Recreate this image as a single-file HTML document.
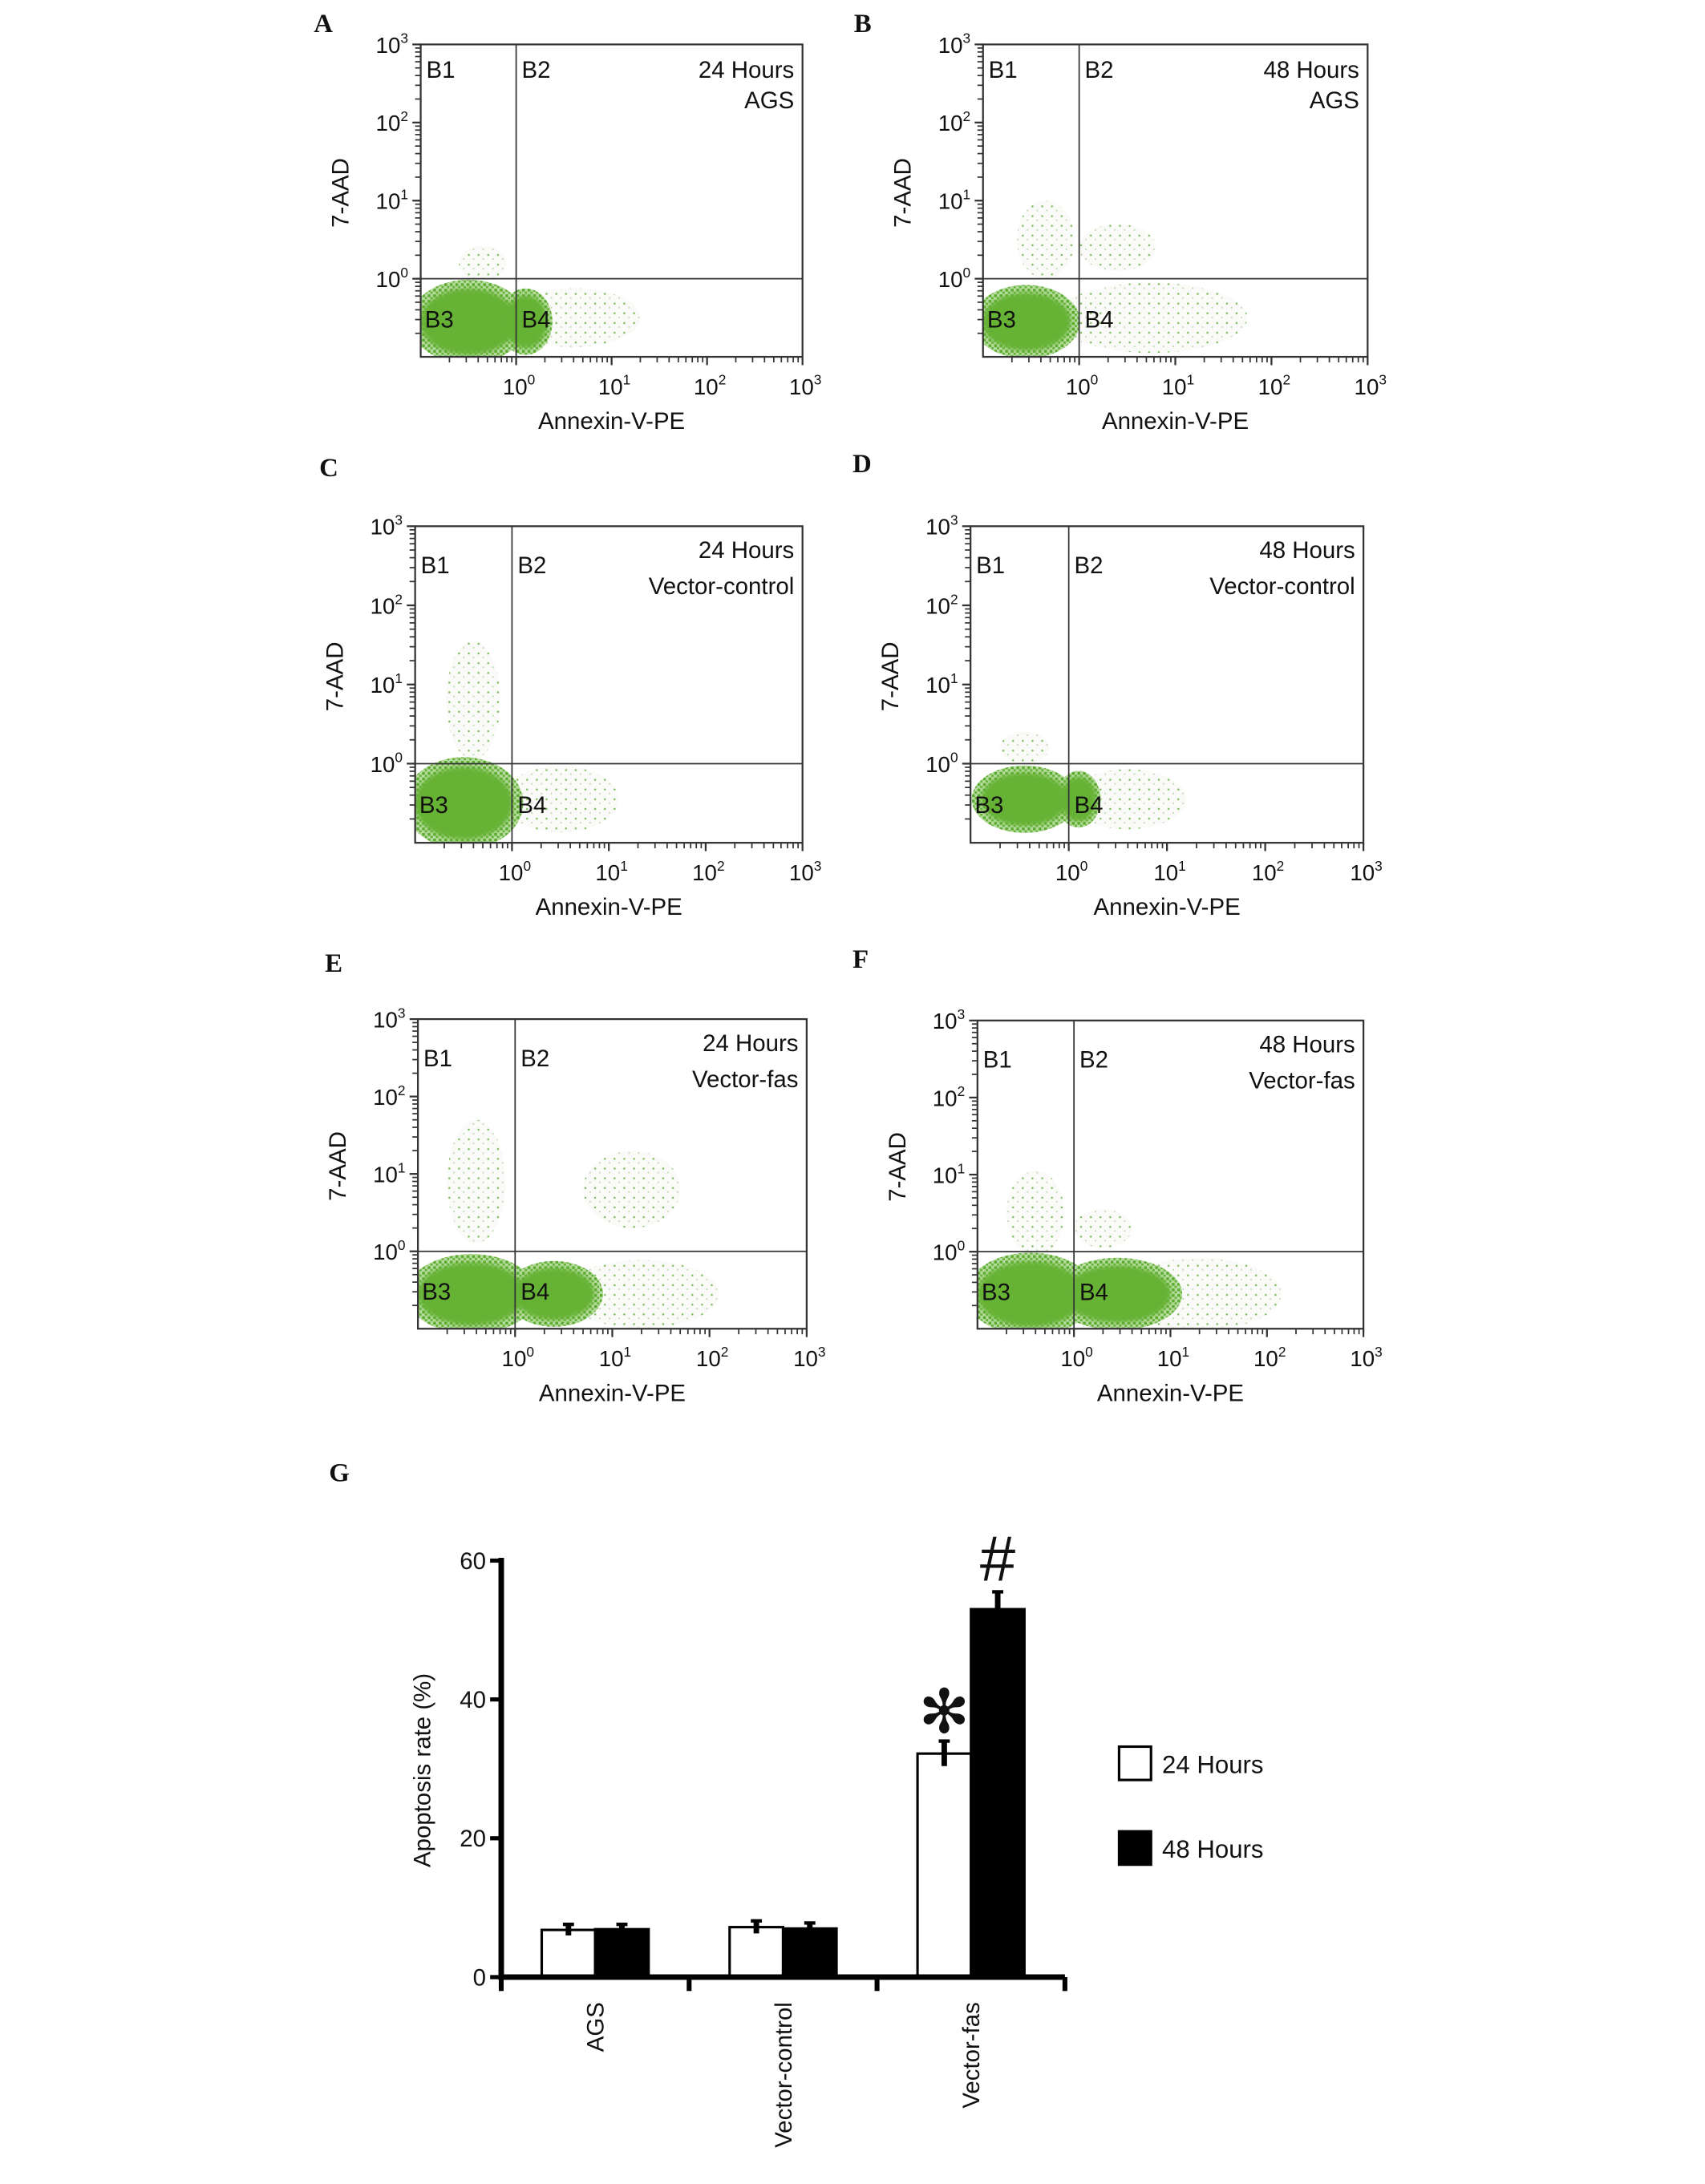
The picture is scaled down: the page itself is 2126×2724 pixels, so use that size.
<!DOCTYPE html>
<html><head><meta charset="utf-8">
<style>
html,body{margin:0;padding:0;background:#fff;}
svg{display:block;}
text{font-family:"Liberation Sans",Arial,sans-serif;fill:#111;}
.serif{font-family:"Liberation Serif",serif;font-weight:bold;}
</style></head>
<body>
<svg id="fig" width="2126" height="2724" viewBox="0 0 1228 1573" preserveAspectRatio="none" xmlns="http://www.w3.org/2000/svg">
<defs>
<filter id="blur1" x="-30%" y="-30%" width="160%" height="160%"><feGaussianBlur stdDeviation="1.5"/></filter>
<pattern id="stip" width="4" height="4" patternUnits="userSpaceOnUse">
<rect width="4" height="4" fill="#b7dc9f"/>
<rect x="0" y="0" width="2" height="2" fill="#5aab2e"/>
<rect x="2" y="2" width="1.6" height="1.6" fill="#62b035"/>
</pattern>
<pattern id="stipL" width="7" height="7" patternUnits="userSpaceOnUse">
<rect width="7" height="7" fill="#fafbf9"/>
<rect x="1" y="1" width="1.3" height="1.3" fill="#7dbb5a"/>
<rect x="4.5" y="4" width="1.1" height="1.1" fill="#c3d9b5"/>
</pattern>
</defs>
<g id="panels"></g>
<g id="bars"></g>
</svg>
<script>
// ---- flow panels ----
const panelLetters = ["A","B","C","D","E","F"];
const panelTitles1 = ["24 Hours","48 Hours","24 Hours","48 Hours","24 Hours","48 Hours"];
const panelTitles2 = ["AGS","AGS","Vector-control","Vector-control","Vector-fas","Vector-fas"];
// dense clusters: [xCenterLog, yCenterLog, xHalfLog, yHalfLog]
const denseClusters = [
 [[-0.5,-0.55,0.55,0.48],[0.1,-0.55,0.25,0.38]],
 [[-0.55,-0.55,0.5,0.42]],
 [[-0.5,-0.5,0.55,0.52]],
 [[-0.45,-0.45,0.48,0.38],[0.1,-0.45,0.2,0.32]],
 [[-0.45,-0.55,0.6,0.46],[0.4,-0.55,0.45,0.38]],
 [[-0.45,-0.55,0.6,0.48],[0.45,-0.55,0.6,0.42]]
];
// sparse tails: [xCenterLog, yCenterLog, xHalfLog, yHalfLog]
const sparseClusters = [
 [[0.6,-0.5,0.7,0.38],[-0.35,0.2,0.25,0.22]],
 [[0.75,-0.5,1.0,0.45],[-0.35,0.5,0.3,0.5],[0.4,0.4,0.4,0.3]],
 [[0.5,-0.45,0.6,0.42],[-0.4,0.8,0.28,0.75]],
 [[0.6,-0.45,0.6,0.38],[-0.45,0.2,0.25,0.2]],
 [[1.3,-0.55,0.8,0.44],[-0.4,0.9,0.3,0.8],[1.2,0.8,0.5,0.5]],
 [[1.3,-0.55,0.85,0.47],[-0.4,0.5,0.3,0.55],[0.3,0.3,0.3,0.25]]
];
const boxes = [
 [303,578,32,257],[708,985,32,257],
 [299,578,379,607],[699,982,379,607],
 [301,581,734,957],[704,982,735,957]
];
const letterPos = [[226,23],[615,23],[230,343],[614,340],[234,700],[614,697]];
const decades = [0,1,2,3];

const NS="http://www.w3.org/2000/svg";
function mk(tag,attrs,parent){const e=document.createElementNS(NS,tag);for(const k in attrs)e.setAttribute(k,attrs[k]);parent.appendChild(e);return e;}

const panelsG=document.getElementById('panels');
boxes.forEach((b,i)=>{
  const [x0,x1,y0,y1]=b;
  const xs=v=>x0+(v+1)/4*(x1-x0);
  const ys=v=>y1-(v+1)/4*(y1-y0);
  const g=mk('g',{},panelsG);
  
  
  const clip=mk('clipPath',{id:'clip'+i},g);
  mk('rect',{x:x0,y:y0,width:x1-x0,height:y1-y0},clip);
  const cg=mk('g',{'clip-path':'url(#clip'+i+')'},g);
  sparseClusters[i].forEach(c=>{
    const e=mk('ellipse',{cx:xs(c[0]),cy:ys(c[1]),rx:c[2]/4*(x1-x0),ry:c[3]/4*(y1-y0),fill:'url(#stipL)'},cg);
    
    
  });
  denseClusters[i].forEach(c=>{
    const e=mk('ellipse',{cx:xs(c[0]),cy:ys(c[1]),rx:c[2]/4*(x1-x0)*1.12,ry:c[3]/4*(y1-y0)*1.12,fill:'url(#stip)'},cg);
    
    
  });
  denseClusters[i].forEach(c=>{
    const d=mk('ellipse',{cx:xs(c[0]),cy:ys(c[1]),rx:c[2]/4*(x1-x0)*0.92,ry:c[3]/4*(y1-y0)*0.88,fill:'#66b236',filter:'url(#blur1)'},cg);
    
    
  });
  const r=mk('rect',{x:x0,y:y0,width:x1-x0,height:y1-y0,fill:'none',stroke:'#333','stroke-width':1.3},g);
  
  
  const gv=mk('line',{x1:xs(0),x2:xs(0),y1:y0,y2:y1,stroke:'#333','stroke-width':1},g);
  
  
  const gh=mk('line',{x1:x0,x2:x1,y1:ys(0),y2:ys(0),stroke:'#333','stroke-width':1},g);
  
  
  for(let d=-1;d<3;d++){for(let m=1;m<=10;m++){
    if(d===-1&&m===1)continue;
    const v=d+Math.log10(m);
    const big=(m===10);
    const tx=mk('line',{x1:xs(v),x2:xs(v),y1:y1,y2:y1+(big?6:4),stroke:'#333','stroke-width':big?1.3:1},g);
    
    
    const ty=mk('line',{x1:x0,x2:x0-(big?6:4),y1:ys(v),y2:ys(v),stroke:'#333','stroke-width':big?1.3:1},g);
    
    
  }}
  decades.forEach(d=>{
    const t=mk('text',{x:xs(d)+2,y:y1+27,'text-anchor':'middle','font-size':16},g);
    
    
    t.innerHTML='10<tspan dy="-7" font-size="10">'+d+'</tspan>';
    const u=mk('text',{x:x0-9,y:ys(d)+6,'text-anchor':'end','font-size':16},g);
    
    
    u.innerHTML='10<tspan dy="-7" font-size="10">'+d+'</tspan>';
  });
  const xt=mk('text',{x:xs(1),y:y1+52,'text-anchor':'middle','font-size':17},g);
  
  
  xt.textContent='Annexin-V-PE';
  const yt=mk('text',{x:0,y:0,'text-anchor':'middle','font-size':17,transform:'translate('+(x0-52)+','+ys(1.1)+') rotate(-90)'},g);
  
  
  yt.textContent='7-AAD';
  const qy=(i<2)?y0+24:y0+34;
  [['B1',x0+4,qy],['B2',xs(0)+4,qy],['B3',x0+3,ys(-0.5)+7],['B4',xs(0)+4,ys(-0.5)+7]].forEach(q=>{
    const t=mk('text',{x:q[1],y:q[2],'font-size':17},g);
    
    
    t.textContent=q[0];
  });
  const t1=mk('text',{x:x1-6,y:(i<2)?y0+24:y0+23,'text-anchor':'end','font-size':17},g);
  
  
  t1.textContent=panelTitles1[i];
  const t2=mk('text',{x:x1-6,y:(i<2)?y0+46:y0+49,'text-anchor':'end','font-size':17},g);
  
  
  t2.textContent=panelTitles2[i];
  const L=mk('text',{x:letterPos[i][0],y:letterPos[i][1],'font-size':19,class:'serif'},g);
  
  
  L.textContent=panelLetters[i];
});

// ---- bar chart G ----
const categories = ["AGS","Vector-control","Vector-fas"];
const values24 = [6.8, 7.2, 32.2];
const values48 = [6.9, 7.0, 53.0];
const err24 = [0.8, 0.9, 1.8];
const err48 = [0.7, 0.8, 2.5];
const yTicks = [0,20,40,60];
const marks = ["","","✻"];
const marks48 = ["","","#"];

const bg=document.getElementById('bars');
const AX0=361, AX1=767, Y0=1424, Y60=1124;
const yS=v=>Y0-(v/60)*(Y0-Y60);
const groupW=(AX1-AX0)/categories.length;
const barW=38.5;
const gL=mk('text',{x:237,y:1067,'font-size':19,class:'serif'},bg);


gL.textContent='G';
categories.forEach((c,i)=>{
  const cx=AX0+groupW*(i+0.5);
  [[values24,err24,'#fff','bar-24h-'],[values48,err48,'#000','bar-48h-']].forEach((s,k)=>{
    const v=s[0][i], e=s[1][i];
    const bx=cx-barW+k*barW;
    const r=mk('rect',{x:bx,y:yS(v),width:barW,height:Y0-yS(v),fill:s[2],stroke:'#000','stroke-width':1.8},bg);
    
    
    const el=mk('line',{x1:bx+barW/2,x2:bx+barW/2,y1:yS(v+e),y2:yS(v-e),stroke:'#000','stroke-width':4},bg);
    
    
    const cap=mk('line',{x1:bx+barW/2-4,x2:bx+barW/2+4,y1:yS(v+e),y2:yS(v+e),stroke:'#000','stroke-width':2.5},bg);
    
    
  });
  if(marks[i]){
    const m=mk('text',{x:cx-barW/2,y:yS(values24[i]+err24[i])-6,'text-anchor':'middle','font-size':44,'font-family':'DejaVu Sans, sans-serif'},bg);
    
    
    m.textContent=marks[i];
  }
  if(marks48[i]){
    const m=mk('text',{x:cx+barW/2,y:yS(values48[i]+err48[i])-8,'text-anchor':'middle','font-size':46},bg);
    
    
    m.textContent=marks48[i];
  }
  const lt=mk('text',{x:0,y:0,'text-anchor':'end','font-size':17,transform:'translate('+(cx+6)+','+(Y0+18)+') rotate(-90)'},bg);
  
  
  lt.textContent=c;
});
const ya=mk('line',{x1:AX0,x2:AX0,y1:Y60-2,y2:Y0+2,stroke:'#000','stroke-width':4},bg);


const xa=mk('line',{x1:AX0,x2:AX1,y1:Y0,y2:Y0,stroke:'#000','stroke-width':4},bg);


yTicks.forEach(t=>{
  const l=mk('line',{x1:AX0-8,x2:AX0,y1:yS(t),y2:yS(t),stroke:'#000','stroke-width':3},bg);
  
  
  const tx=mk('text',{x:AX0-11,y:yS(t)+6,'text-anchor':'end','font-size':17},bg);
  
  
  tx.textContent=t;
});
for(let i=0;i<=categories.length;i++){
  const x=AX0+groupW*i;
  const l=mk('line',{x1:x,x2:x,y1:Y0,y2:Y0+10,stroke:'#000','stroke-width':3.5},bg);
  
  
}
const yT=mk('text',{x:0,y:0,'text-anchor':'middle','font-size':17,transform:'translate(310,1275) rotate(-90)'},bg);


yT.textContent='Apoptosis rate (%)';
[['24 Hours','#fff',1258],['48 Hours','#000',1319]].forEach(l=>{
  const r=mk('rect',{x:806,y:l[2],width:23,height:24,fill:l[1],stroke:'#000','stroke-width':1.8},bg);
  
  
  const t=mk('text',{x:837,y:l[2]+19,'font-size':18},bg);
  
  
  t.textContent=l[0];
});
</script>
</body></html>
